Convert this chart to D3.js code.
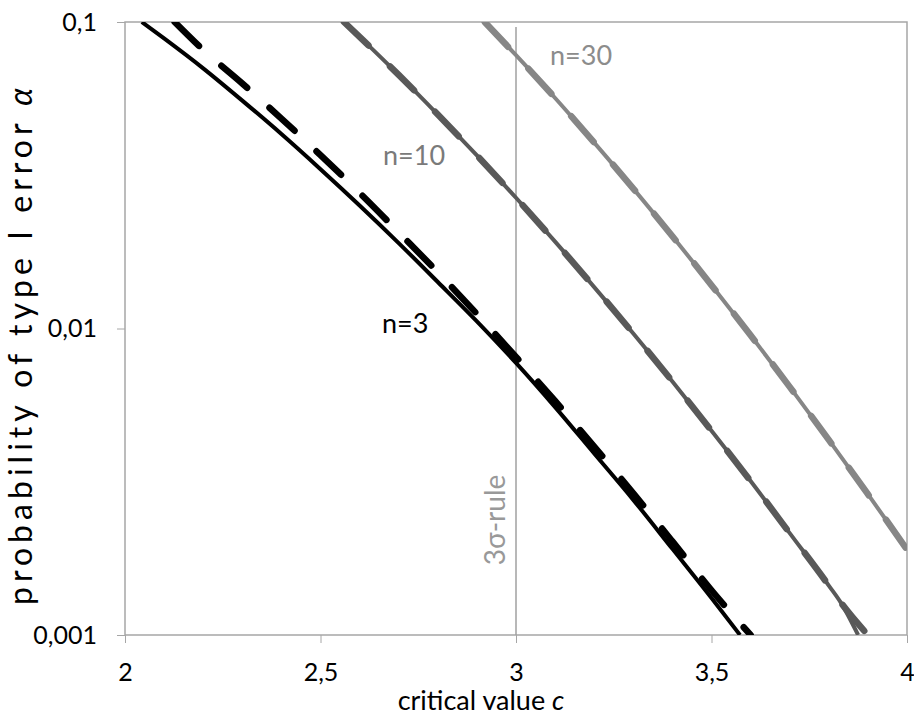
<!DOCTYPE html>
<html>
<head>
  <meta charset="utf-8">
  <title>Probability of type I error vs critical value</title>
  <script src="https://cdn.jsdelivr.net/npm/d3@7/dist/d3.min.js"></script>
  <style>
    body {
        margin: 0;
        background: #fff;
    }
    text {
        font-family: Lato, "Open Sans", sans-serif;
    }
    .tick line {
        stroke: #a6a6a6;
    }
    .tick text {
        font-size: 25px;
        fill: #000;
    }
  </style>
</head>
<body>
<script>
    // values: [critical value c, alpha]
    var n3Solid = [[2.043, 0.1], [2.1, 0.0884], [2.2, 0.0706], [2.3, 0.0554], [2.4, 0.0431],
        [2.5, 0.0331], [2.6, 0.0252], [2.7, 0.0190], [2.8, 0.01418], [2.9, 0.01055],
        [3.0, 0.00772], [3.1, 0.00554], [3.2, 0.00391], [3.3, 0.00276], [3.4, 0.00191],
        [3.5, 0.00132], [3.573, 0.001]];
    var n3Dashed = [[2.127, 0.1], [2.2, 0.0811], [2.3, 0.0630], [2.4, 0.0484], [2.5, 0.0368],
        [2.6, 0.0277], [2.7, 0.0206], [2.8, 0.01525], [2.9, 0.01116], [3.0, 0.00808],
        [3.1, 0.0058], [3.2, 0.00412], [3.3, 0.0029], [3.4, 0.00202], [3.5, 0.0014],
        [3.6, 0.001]];
    var n10Solid = [[2.56, 0.1], [2.6, 0.0894], [2.7, 0.0672], [2.8, 0.0499], [2.9, 0.0367],
        [3.0, 0.0267], [3.1, 0.0192], [3.2, 0.01365], [3.3, 0.00963], [3.4, 0.00672],
        [3.5, 0.00464], [3.6, 0.00318], [3.7, 0.00215], [3.8, 0.00145], [3.83, 0.00128],
        [3.875, 0.001]];
    var n10Dashed = [[2.56, 0.1], [2.6, 0.0894], [2.7, 0.0672], [2.8, 0.0499], [2.9, 0.0367],
        [3.0, 0.0267], [3.1, 0.0192], [3.2, 0.01365], [3.3, 0.00963], [3.4, 0.00672],
        [3.5, 0.00464], [3.6, 0.00318], [3.7, 0.00215], [3.8, 0.00145], [3.83, 0.00128],
        [3.9, 0.001]];
    var n30Solid = [[2.92, 0.1], [3.0, 0.0779], [3.1, 0.0565], [3.2, 0.0404], [3.3, 0.0286],
        [3.4, 0.0200], [3.5, 0.01385], [3.6, 0.0095], [3.7, 0.00645], [3.8, 0.00433],
        [3.9, 0.00288], [4.0, 0.0019]];
    var n30Dashed = [[2.92, 0.1], [3.0, 0.0779], [3.1, 0.0565], [3.2, 0.0404], [3.3, 0.0286],
        [3.4, 0.0200], [3.5, 0.01385], [3.6, 0.0095], [3.7, 0.00645], [3.8, 0.00433],
        [3.9, 0.00288], [4.0, 0.0019]];
    var ruleLine = [[3, 0.001], [3, 0.0963]];

    var xTicks = [2, 2.5, 3, 3.5, 4];
    var yTicks = [0.001, 0.01, 0.1];
    var xTickLabels = ["2", "2,5", "3", "3,5", "4"];
    var yTickLabels = ["0,001", "0,01", "0,1"];

    // dimensions
    var margin = {top: 22, right: 7, bottom: 80, left: 125};
    var width = 914 - margin.left - margin.right;
    var height = 715 - margin.top - margin.bottom;

    var x = d3.scaleLinear().domain([2, 4]).range([0, width]);
    var y = d3.scaleLog().domain([0.001, 0.1]).range([height, 0]);

    var svg = d3.select("body").append("svg")
        .attr("width", 914)
        .attr("height", 715)
        .append("g")
        .attr("transform", "translate(" + margin.left + "," + margin.top + ")");

    svg.append("clipPath").attr("id", "plotclip")
        .append("rect")
        .attr("x", 0).attr("y", 0)
        .attr("width", width).attr("height", height);

    // axes
    var xAxis = d3.axisBottom(x)
        .tickValues(xTicks)
        .tickFormat(function(d, i) { return xTickLabels[i]; })
        .tickSize(8)
        .tickPadding(20);
    svg.append("g")
        .attr("transform", "translate(0," + height + ")")
        .call(xAxis)
        .call(function(g) { g.select(".domain").remove(); });

    var yAxis = d3.axisLeft(y)
        .tickValues(yTicks)
        .tickFormat(function(d, i) { return yTickLabels[i]; })
        .tickSize(8)
        .tickPadding(20);
    svg.append("g")
        .call(yAxis)
        .call(function(g) { g.select(".domain").remove(); });

    // plot frame
    svg.append("rect")
        .attr("x", 0).attr("y", 0)
        .attr("width", width).attr("height", height)
        .attr("fill", "none")
        .attr("stroke", "#a6a6a6")
        .attr("stroke-width", 1.5);

    var line = d3.line()
        .x(function(d) { return x(d[0]); })
        .y(function(d) { return y(d[1]); })
        .curve(d3.curveMonotoneX);

    // 3 sigma rule
    svg.append("path")
        .datum(ruleLine)
        .attr("d", d3.line().x(function(d) { return x(d[0]); }).y(function(d) { return y(d[1]); }))
        .attr("stroke", "#a0a0a0")
        .attr("stroke-width", 1.5)
        .attr("fill", "none");

    var curves = svg.append("g").attr("clip-path", "url(#plotclip)");

    var series = [
        {data: n30Solid, color: "#868686", dashed: false},
        {data: n30Dashed, color: "#868686", dashed: true},
        {data: n10Solid, color: "#595959", dashed: false},
        {data: n10Dashed, color: "#595959", dashed: true},
        {data: n3Solid, color: "#000000", dashed: false},
        {data: n3Dashed, color: "#000000", dashed: true}
    ];

    series.forEach(function(s) {
        curves.append("path")
            .datum(s.data)
            .attr("d", line)
            .attr("fill", "none")
            .attr("stroke", s.color)
            .attr("stroke-width", s.dashed ? 6.5 : 4)
            .attr("stroke-linecap", s.dashed ? "round" : "butt")
            .attr("stroke-dasharray", s.dashed ? "34,30" : null);
    });

    // curve labels
    svg.append("text")
        .attr("x", 550 - margin.left).attr("y", 65 - margin.top)
        .attr("font-size", 27).attr("fill", "#8c8c8c")
        .text("n=30");
    svg.append("text")
        .attr("x", 383 - margin.left).attr("y", 165 - margin.top)
        .attr("font-size", 27).attr("fill", "#7a7a7a")
        .text("n=10");
    svg.append("text")
        .attr("x", 382 - margin.left).attr("y", 333 - margin.top)
        .attr("font-size", 27).attr("fill", "#000")
        .text("n=3");
    svg.append("text")
        .attr("transform", "translate(" + (505 - margin.left) + "," + (520 - margin.top) + ") rotate(-90)")
        .attr("text-anchor", "middle")
        .attr("font-size", 28).attr("fill", "#999")
        .text("3σ-rule");

    // axis titles
    var xt = svg.append("text")
        .attr("x", 481 - margin.left).attr("y", 710 - margin.top)
        .attr("text-anchor", "middle")
        .attr("font-size", 27).attr("fill", "#000");
    xt.append("tspan").text("critical value ");
    xt.append("tspan").attr("font-style", "italic").text("c");

    var yt = svg.append("text")
        .attr("transform", "translate(" + (32 - margin.left) + "," + (605 - margin.top) + ") rotate(-90)")
        .attr("text-anchor", "start")
        .attr("font-size", 32).attr("fill", "#000")
        .attr("textLength", 517)
        .attr("lengthAdjust", "spacing");
    yt.append("tspan").text("probability of type I error ");
    yt.append("tspan").attr("font-style", "italic").text("α");
</script>
</body>
</html>
